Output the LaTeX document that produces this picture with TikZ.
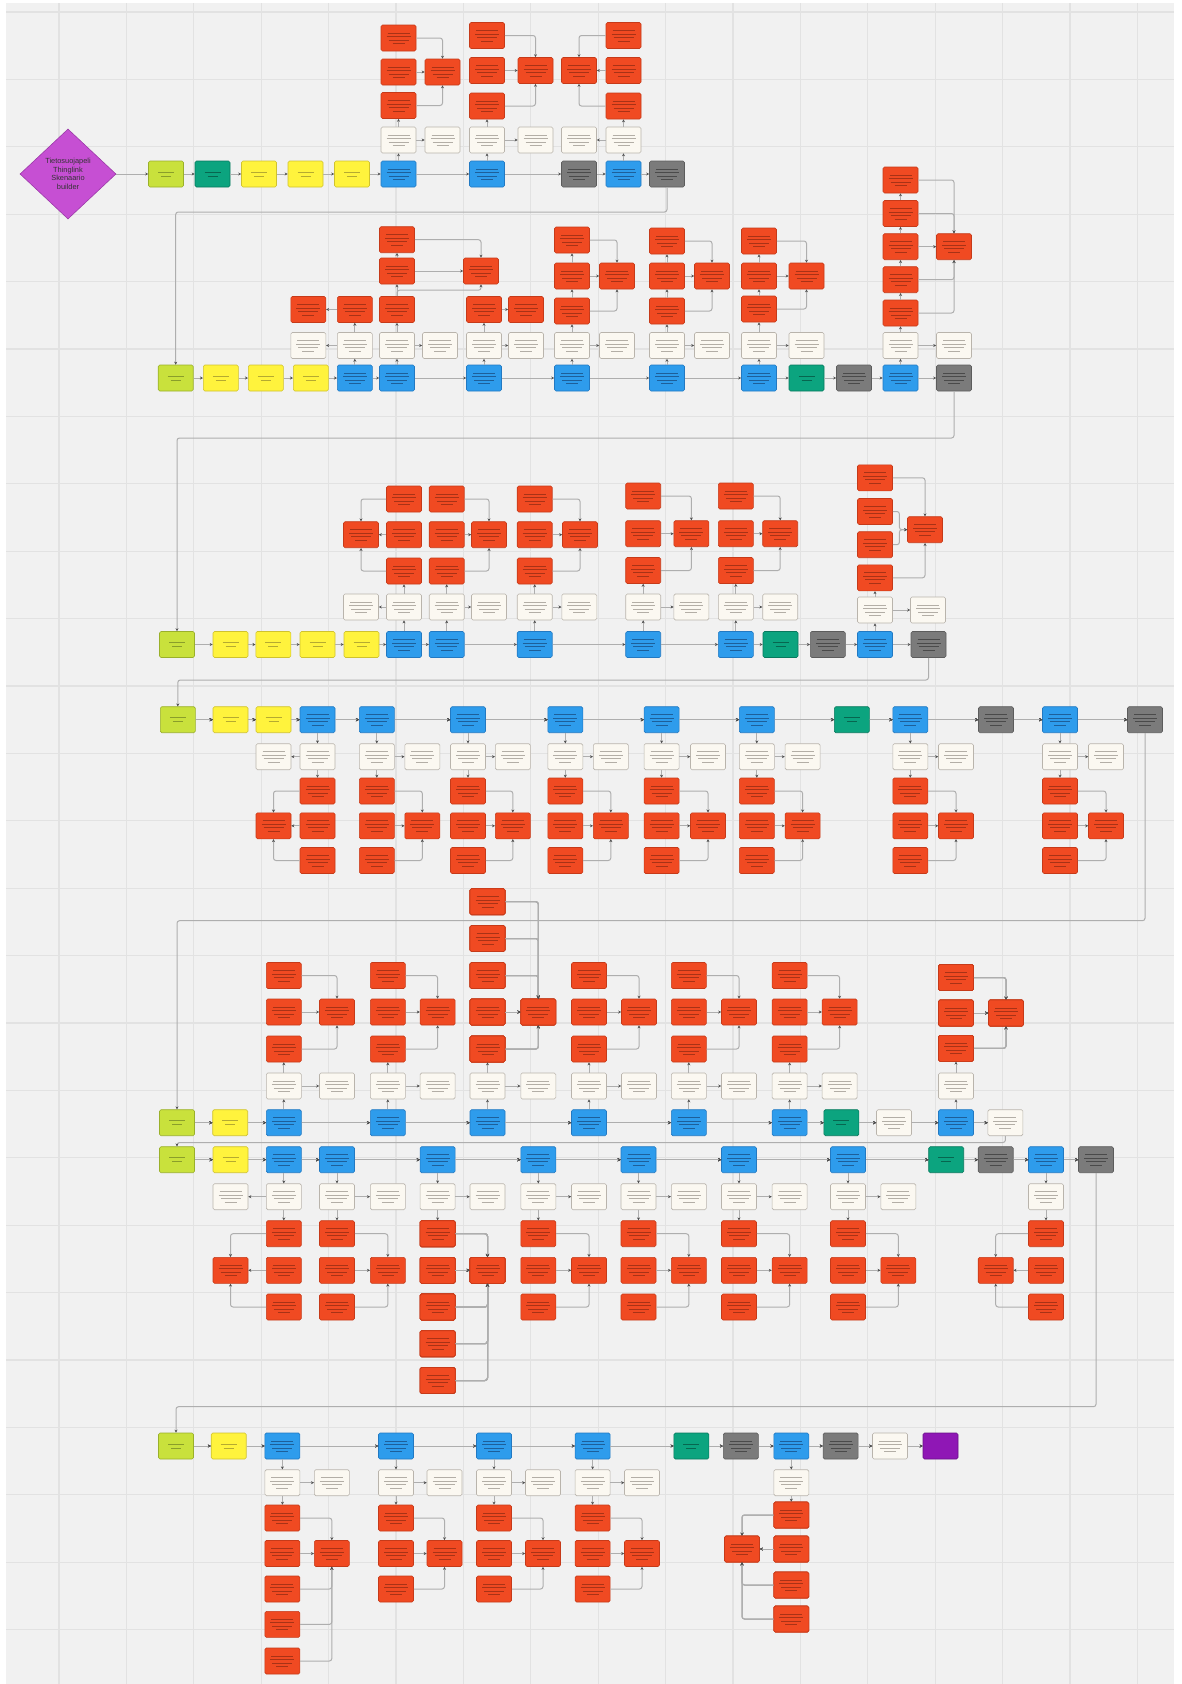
\documentclass[tikz,border=0pt]{standalone}
\usepackage{fontspec}
\setsansfont{Liberation Sans}
\usepackage{tikz}
\usetikzlibrary{shapes.geometric, arrows.meta, calc}
\definecolor{cbg}{HTML}{F1F1F1}
\definecolor{cgrid}{HTML}{E2E2E2}
\definecolor{clink}{HTML}{AEAEAE}
\definecolor{carrow}{HTML}{505050}
\definecolor{cred}{HTML}{F04A22}
\definecolor{credd}{HTML}{C63A19}
\definecolor{credt}{HTML}{A83216}
\definecolor{cblue}{HTML}{2E9CEC}
\definecolor{cblued}{HTML}{2279C2}
\definecolor{cbluet}{HTML}{1D5F9A}
\definecolor{ccream}{HTML}{FBF8F1}
\definecolor{ccreamd}{HTML}{B9B4AC}
\definecolor{ccreamt}{HTML}{B3AEA6}
\definecolor{cyel}{HTML}{FFF33D}
\definecolor{cyeld}{HTML}{CFC22E}
\definecolor{cyelt}{HTML}{B5AA30}
\definecolor{clime}{HTML}{C9E13C}
\definecolor{climed}{HTML}{9AB02A}
\definecolor{climet}{HTML}{8A9E2A}
\definecolor{cteal}{HTML}{0CA47F}
\definecolor{cteald}{HTML}{08795E}
\definecolor{ctealt}{HTML}{07664F}
\definecolor{cgray}{HTML}{7B7B7B}
\definecolor{cgrayd}{HTML}{5C5C5C}
\definecolor{cgrayt}{HTML}{4A4A4A}
\definecolor{cpurple}{HTML}{8F17B5}
\definecolor{cpurpled}{HTML}{6A0F88}
\definecolor{cdiam}{HTML}{C64FD3}
\definecolor{cdiamd}{HTML}{9B3AA8}
\tikzset{
  greek/.style={path picture={
    \foreach \dy/\w in {5/11, 1.5/12, -2/10, -5.5/6}
      \draw[#1, line width=0.9pt] ([shift={(-\w pt,\dy pt)}]path picture bounding box.center)
        -- ([shift={(\w pt,\dy pt)}]path picture bounding box.center);
  }},
  greektwo/.style={path picture={
    \foreach \dy/\w in {2/8, -2/5}
      \draw[#1, line width=0.9pt] ([shift={(-\w pt,\dy pt)}]path picture bounding box.center)
        -- ([shift={(\w pt,\dy pt)}]path picture bounding box.center);
  }},
  card/.style={rectangle, minimum width=35pt, minimum height=26pt, inner sep=0pt,
    rounded corners=1.5pt, line width=0.6pt},
  redbox/.style={card, fill=cred, draw=credd, greek=credt},
  bluebox/.style={card, fill=cblue, draw=cblued, greek=cbluet},
  creambox/.style={card, fill=ccream, draw=ccreamd, greek=ccreamt},
  graybox/.style={card, fill=cgray, draw=cgrayd, greek=cgrayt},
  yelbox/.style={card, fill=cyel, draw=cyeld, greektwo=cyelt},
  limebox/.style={card, fill=clime, draw=climed, greektwo=climet},
  tealbox/.style={card, fill=cteal, draw=cteald, greektwo=ctealt},
  purplebox/.style={card, fill=cpurple, draw=cpurpled},
  link/.style={draw=clink, line width=1pt, rounded corners=2.5pt,
    -{Stealth[length=3pt, width=3pt, color=carrow]}},
  gridline/.style={draw=cgrid, line width=1.2pt}
}
% stack of red cards feeding one merge card
\newcommand{\redstack}[5]{%
  \node[redbox] (#1m) at (#3,#4) {};
  \foreach \yy [count=\k] in {#5} {
    \node[redbox] (#1\k) at (#2,\yy) {};
    \ifdim \yy pt < #4pt
      \draw[link] (#1\k) -| (#1m.north);
    \else
      \ifdim \yy pt > #4pt
        \draw[link] (#1\k) -| (#1m.south);
      \else
        \draw[link] (#1\k) -- (#1m);
      \fi
    \fi
  }%
}
\begin{document}
\begin{tikzpicture}[x=1pt, y=-1pt]
  \useasboundingbox (0,0) rectangle (1181,1684);
  % Board
  \fill[white] (0,0) rectangle (1181,1684);
  \fill[cbg] (6,3) rectangle (1174,1684);
  \foreach \k in {0,...,16} \draw[gridline] ({59+67.4*\k},3) -- ({59+67.4*\k},1684);
  \foreach \k in {0,...,24} \draw[gridline] (6,{12+67.4*\k}) -- (1174,{12+67.4*\k});

  % Row 1
  \node[diamond, aspect=1.07, minimum width=96pt, minimum height=90pt, inner sep=0pt,
    fill=cdiam, draw=cdiamd, line width=0.6pt, align=center, text=black!80,
    font=\sffamily\fontsize{7.4}{8.7}\selectfont] (start) at (68,174)
    {Tietosuojapeli\\Thinglink\\Skenaario\\builder};
  \foreach \st/\x [count=\i] in {limebox/166, tealbox/212.5, yelbox/259, yelbox/305.5, yelbox/352,
      bluebox/398.5, bluebox/487, graybox/579, bluebox/623.5, graybox/667}
    \node[\st] (r1s\i) at (\x,174) {};
  \foreach \x [count=\i] in {398.5, 442.5, 487, 535.5, 579, 623.5}
    \node[creambox] (r1c\i) at (\x,140) {};
  \redstack{r1A}{398.5}{442.5}{72}{105.5,72,38}
  \redstack{r1B}{487}{535.5}{70.5}{106,70.5,35.5}
  \redstack{r1C}{623.5}{579}{70.5}{106,70.5,35.5}
  \draw[link] (start) -- (r1s1);
  \foreach \i [evaluate=\i as \j using int(\i+1)] in {1,...,9} \draw[link] (r1s\i) -- (r1s\j);
  \foreach \a/\b in {6/1, 7/3, 9/6} \draw[link] (r1s\a) -- (r1c\b);
  \foreach \a/\b in {1/2, 3/4, 6/5} \draw[link] (r1c\a) -- (r1c\b);
  \foreach \a/\g in {1/A, 3/B, 6/C} \draw[link] (r1c\a) -- (r1\g1);

  % Row 2
  \foreach \st/\x [count=\i] in {limebox/175.7, yelbox/220.8, yelbox/265.8, yelbox/310.8,
      bluebox/354.8, bluebox/397, bluebox/484, bluebox/572, bluebox/667, bluebox/759,
      tealbox/806.5, graybox/854, bluebox/900.5, graybox/954}
    \node[\st] (r2s\i) at (\x,378) {};
  \foreach \x [count=\i] in {308.3, 354.8, 397, 440, 484, 526, 572, 617, 667, 712, 759, 806.5, 900.5, 954}
    \node[creambox] (r2c\i) at (\x,345.5) {};
  \node[redbox] (r2p1) at (354.8,309.5) {};
  \node[redbox] (r2p2) at (308.3,309.5) {};
  \node[redbox] (r2q1) at (484,309.5) {};
  \node[redbox] (r2q2) at (526,309.5) {};
  \node[redbox] (r2G1) at (397,309.5) {};
  \node[redbox] (r2G2) at (397,271) {};
  \node[redbox] (r2G3) at (397,239.7) {};
  \node[redbox] (r2Gm) at (481,271) {};
  \redstack{r2K}{572}{617}{276}{311,276,240}
  \redstack{r2L}{667}{712}{276}{311,276,241}
  \redstack{r2M}{759}{806.5}{276}{309,276,241}
  \redstack{r2N}{900.5}{954}{246.7}{313,279.7,246.7,213.5,180}
  \foreach \i [evaluate=\i as \j using int(\i+1)] in {1,...,13} \draw[link] (r2s\i) -- (r2s\j);
  \foreach \a/\b in {5/2, 6/3, 7/5, 8/7, 9/9, 10/11, 13/13} \draw[link] (r2s\a) -- (r2c\b);
  \foreach \a/\b in {2/1, 3/4, 5/6, 7/8, 9/10, 11/12, 13/14} \draw[link] (r2c\a) -- (r2c\b);
  \draw[link] (r2c2) -- (r2p1);
  \draw[link] (r2p1) -- (r2p2);
  \draw[link] (r2c5) -- (r2q1);
  \draw[link] (r2q1) -- (r2q2);
  \draw[link] (r2c3) -- (r2G1);
  \draw[link] (r2G1) -- (r2G2);
  \draw[link] (r2G2) -- (r2G3);
  \draw[link] (r2G2) -- (r2Gm);
  \draw[link] (r2G3) -| (r2Gm.north);
  \draw[link] (r2G1.north) -- ++(0,-6) -| (r2Gm.south);
  \foreach \a/\g in {7/K, 9/L, 11/M, 13/N} \draw[link] (r2c\a) -- (r2\g1);
  \foreach \g in {K, L, M} {
    \draw[link] (r2\g1) -- (r2\g2);
    \draw[link] (r2\g2) -- (r2\g3);
  }
  \foreach \i/\j in {1/2, 2/3, 3/4, 4/5} \draw[link] (r2N\i) -- (r2N\j);
  \coordinate (r1turn) at (667,212);
  \draw[link] (r1s10) -- (r1turn) -| (r2s1);

  % Row 3
  \foreach \st/\x [count=\i] in {limebox/177, yelbox/230.5, yelbox/273.3, yelbox/317.5, yelbox/361.5,
      bluebox/404, bluebox/446.7, bluebox/534.7, bluebox/643.2, bluebox/735.8, tealbox/780.5,
      graybox/827.8, bluebox/875, graybox/928.5}
    \node[\st] (r3s\i) at (\x,644.5) {};
  \foreach \x [count=\i] in {361, 404, 446.7, 489, 534.7, 579.3, 643.2, 691.4, 735.8, 780.2}
    \node[creambox] (r3c\i) at (\x,607) {};
  \node[creambox] (r3c11) at (875,610) {};
  \node[creambox] (r3c12) at (928,610) {};
  \redstack{r3A}{404}{361}{534.7}{571,534.7,499}
  \redstack{r3B}{446.7}{489}{534.7}{571,534.7,499}
  \redstack{r3C}{534.7}{580}{534.7}{571,534.7,499}
  \redstack{r3D}{643.2}{691.4}{533.7}{570.5,533.7,496}
  \redstack{r3E}{735.8}{780.2}{533.7}{570.5,533.7,496}
  \node[redbox] (r3F1) at (875,577.8) {};
  \node[redbox] (r3F2) at (875,544.7) {};
  \node[redbox] (r3F3) at (875,511.5) {};
  \node[redbox] (r3F4) at (875,477.8) {};
  \node[redbox] (r3Fm) at (925,529.7) {};
  \coordinate (r3Fj) at (899.4,529.7);
  \draw[link] (r3F1) -| (r3Fm.south);
  \draw[link] (r3F4) -| (r3Fm.north);
  \draw[link] (r3F2) -| (r3Fj) -- (r3Fm);
  \draw[link] (r3F3) -| (r3Fj) -- (r3Fm);
  \foreach \i [evaluate=\i as \j using int(\i+1)] in {1,...,13} \draw[link] (r3s\i) -- (r3s\j);
  \foreach \a/\b in {6/2, 7/3, 8/5, 9/7, 10/9, 13/11} \draw[link] (r3s\a) -- (r3c\b);
  \foreach \a/\b in {2/1, 3/4, 5/6, 7/8, 9/10, 11/12} \draw[link] (r3c\a) -- (r3c\b);
  \foreach \a/\g in {2/A, 3/B, 5/C, 7/D, 9/E, 11/F} \draw[link] (r3c\a) -- (r3\g1);
  \coordinate (r2turn) at (954,438);
  \draw[link] (r2s14) -- (r2turn) -| (r3s1);

  % Row 4
  \foreach \st/\x [count=\i] in {limebox/177.8, yelbox/230.5, yelbox/273.5, bluebox/317.5,
      bluebox/376.8, bluebox/468, bluebox/565.3, bluebox/661.6, bluebox/756.8, tealbox/851.8,
      bluebox/910.3, graybox/996, bluebox/1060, graybox/1145}
    \node[\st] (r4s\i) at (\x,719.7) {};
  \foreach \x [count=\i] in {273.5, 317.5, 376.8, 422.3, 468, 512.8, 565.3, 610.8, 661.6, 708,
      756.8, 802.6, 910.3, 956, 1060, 1106}
    \node[creambox] (r4c\i) at (\x,756.7) {};
  \foreach \g/\xs/\xm in {A/317.5/273.5, B/376.8/422.3, C/468/512.8, D/565.3/610.8,
      E/661.6/708, F/756.8/802.6, G/910.3/956, H/1060/1106}
    \redstack{r4\g}{\xs}{\xm}{825.8}{791,825.8,860.5}
  \foreach \i [evaluate=\i as \j using int(\i+1)] in {1,...,13} \draw[link] (r4s\i) -- (r4s\j);
  \foreach \a/\b in {4/2, 5/3, 6/5, 7/7, 8/9, 9/11, 11/13, 13/15} \draw[link] (r4s\a) -- (r4c\b);
  \foreach \a/\b in {2/1, 3/4, 5/6, 7/8, 9/10, 11/12, 13/14, 15/16} \draw[link] (r4c\a) -- (r4c\b);
  \foreach \a/\g in {2/A, 3/B, 5/C, 7/D, 9/E, 11/F, 13/G, 15/H} \draw[link] (r4c\a) -- (r4\g1);
  \coordinate (r3turn) at (928.5,680);
  \draw[link] (r3s14) -- (r3turn) -| (r4s1);

  % Row 5
  \foreach \st/\x [count=\i] in {limebox/177, yelbox/230.2, bluebox/283.8, bluebox/387.8,
      bluebox/487.5, bluebox/589, bluebox/688.8, bluebox/789.6, tealbox/841.4, creambox/894,
      bluebox/956, creambox/1005.4}
    \node[\st] (r5s\i) at (\x,1122.7) {};
  \foreach \x [count=\i] in {283.8, 337, 387.8, 437.6, 487.5, 538.3, 589, 639, 688.8, 739,
      789.6, 839.6, 956}
    \node[creambox] (r5c\i) at (\x,1086) {};
  \foreach \g/\xs/\xm in {A/283.8/337, B/387.8/437.6, D/589/639, E/688.8/739, F/789.6/839.6}
    \redstack{r5\g}{\xs}{\xm}{1012}{1049,1012,975.5}
  \redstack{r5C}{487.5}{538.3}{1012}{1049,1012,975.5,938.5,901.7}
  \redstack{r5G}{956}{1006}{1013}{1048.3,1013,977.5}
  \foreach \i [evaluate=\i as \j using int(\i+1)] in {1,...,11} \draw[link] (r5s\i) -- (r5s\j);
  \foreach \a/\b in {3/1, 4/3, 5/5, 6/7, 7/9, 8/11, 11/13} \draw[link] (r5s\a) -- (r5c\b);
  \foreach \a/\b in {1/2, 3/4, 5/6, 7/8, 9/10, 11/12} \draw[link] (r5c\a) -- (r5c\b);
  \foreach \a/\g in {1/A, 3/B, 5/C, 7/D, 9/E, 11/F, 13/G} \draw[link] (r5c\a) -- (r5\g1);
  \coordinate (r4turn) at (1145,920.7);
  \draw[link] (r4s14) -- (r4turn) -| (r5s1);

  % Row 6
  \foreach \st/\x [count=\i] in {limebox/177, yelbox/230.5, bluebox/283.8, bluebox/337,
      bluebox/437.6, bluebox/538.3, bluebox/638.5, bluebox/739, bluebox/848, tealbox/946.2,
      graybox/995.7, bluebox/1046, graybox/1096}
    \node[\st] (r6s\i) at (\x,1159.7) {};
  \foreach \x [count=\i] in {230.5, 283.8, 337, 387.8, 437.6, 487.5, 538.3, 589, 638.5, 688.8,
      739, 789.6, 848, 898.3, 1046}
    \node[creambox] (r6c\i) at (\x,1196.7) {};
  \foreach \g/\xs/\xm in {A/283.8/230.5, B/337/387.8, D/538.3/589, E/638.5/688.8,
      F/739/789.6, G/848/898.3, H/1046/995.7}
    \redstack{r6\g}{\xs}{\xm}{1270.3}{1233.7,1270.3,1307}
  \redstack{r6C}{437.6}{487.5}{1270.3}{1233.7,1270.3,1307,1343.7,1380.5}
  \foreach \i [evaluate=\i as \j using int(\i+1)] in {1,...,12} \draw[link] (r6s\i) -- (r6s\j);
  \foreach \a/\b in {3/2, 4/3, 5/5, 6/7, 7/9, 8/11, 9/13, 12/15} \draw[link] (r6s\a) -- (r6c\b);
  \foreach \a/\b in {2/1, 3/4, 5/6, 7/8, 9/10, 11/12, 13/14} \draw[link] (r6c\a) -- (r6c\b);
  \foreach \a/\g in {2/A, 3/B, 5/C, 7/D, 9/E, 11/F, 13/G, 15/H} \draw[link] (r6c\a) -- (r6\g1);
  \coordinate (r5turn) at (1005.4,1142.5);
  \draw[link] (r5s12) -- (r5turn) -| (r6s1);

  % Row 7
  \foreach \st/\x [count=\i] in {limebox/176, yelbox/228.7, bluebox/282.4, bluebox/396,
      bluebox/494, bluebox/592.6, tealbox/691.4, graybox/740.8, bluebox/791.3, graybox/840.6,
      creambox/890, purplebox/940.5}
    \node[\st] (r7s\i) at (\x,1446) {};
  \foreach \x [count=\i] in {282.4, 331.8, 396, 444.5, 494, 543, 592.6, 642, 791.3}
    \node[creambox] (r7c\i) at (\x,1482.7) {};
  \redstack{r7A}{282.4}{331.8}{1553.5}{1518,1553.5,1589,1624.4,1661}
  \foreach \g/\xs/\xm in {B/396/444.5, C/494/543, D/592.6/642}
    \redstack{r7\g}{\xs}{\xm}{1553.5}{1518,1553.5,1589}
  \redstack{r7E}{791.3}{742}{1549}{1515,1549,1585,1619}
  \foreach \i [evaluate=\i as \j using int(\i+1)] in {1,...,11} \draw[link] (r7s\i) -- (r7s\j);
  \foreach \a/\b in {3/1, 4/3, 5/5, 6/7, 9/9} \draw[link] (r7s\a) -- (r7c\b);
  \foreach \a/\b in {1/2, 3/4, 5/6, 7/8} \draw[link] (r7c\a) -- (r7c\b);
  \foreach \a/\g in {1/A, 3/B, 5/C, 7/D, 9/E} \draw[link] (r7c\a) -- (r7\g1);
  \coordinate (r6turn) at (1096,1406.7);
  \draw[link] (r6s13) -- (r6turn) -| (r7s1);
\end{tikzpicture}
\end{document}
